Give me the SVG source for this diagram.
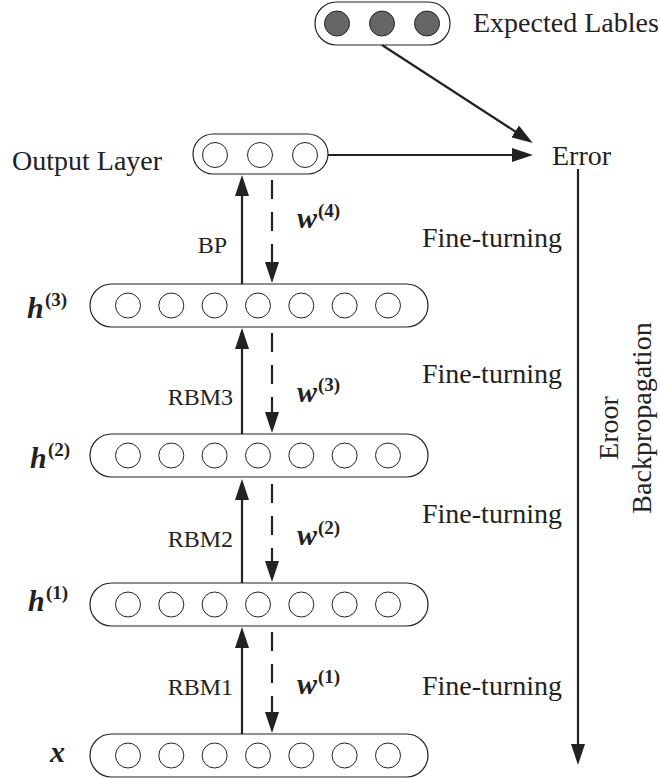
<svg xmlns="http://www.w3.org/2000/svg" width="660" height="778" viewBox="0 0 660 778">
<defs>
<style>
.cap{fill:#fff;stroke:#222;stroke-width:1.2}
.c{fill:#fff;stroke:#222;stroke-width:1}
.cd{fill:#666;stroke:#222;stroke-width:1}
.t{font-family:"Liberation Serif","Times New Roman",serif;font-size:28px;fill:#222}
.s{font-family:"Liberation Serif","Times New Roman",serif;font-size:24px;fill:#222}
.v{font-family:"Liberation Serif","Times New Roman",serif;font-size:30px;font-weight:bold;font-style:italic;fill:#222}
.sup{font-family:"Liberation Serif","Times New Roman",serif;font-size:19px;font-weight:bold;fill:#222}
.ln{stroke:#222;stroke-width:2.2;fill:none;marker-end:url(#ah)}
.dl{stroke:#222;stroke-width:2.2;fill:none;stroke-dasharray:19 13;marker-end:url(#ah)}
</style>
<marker id="ah" markerUnits="userSpaceOnUse" markerWidth="22" markerHeight="14" refX="1" refY="7" orient="auto">
<path d="M0,0 L21,7 L0,14 z" fill="#222" stroke="none"/>
</marker>
</defs>
<rect width="660" height="778" fill="#fff"/>

<g id="expected">
<rect class="cap" x="315" y="2" width="135" height="43" rx="21.5"/>
<circle class="cd" cx="337" cy="23.5" r="12.5"/>
<circle class="cd" cx="382" cy="23.5" r="12.5"/>
<circle class="cd" cx="427" cy="23.5" r="12.5"/>
<text class="t" x="473" y="32">Expected Lables</text>
</g>

<g id="output">
<rect class="cap" x="193" y="134" width="135" height="40" rx="20"/>
<circle class="c" cx="215" cy="155" r="12.5"/>
<circle class="c" cx="260" cy="155" r="12.5"/>
<circle class="c" cx="305" cy="155" r="12.5"/>
<text class="t" x="12" y="170">Output Layer</text>
</g>

<g id="error">
<text class="t" x="552" y="165">Error</text>
</g>

<g id="h3">
<rect class="cap" x="90" y="284" width="338" height="43" rx="21.5"/>
<circle class="c" cx="128" cy="305.5" r="12.5"/>
<circle class="c" cx="171.3" cy="305.5" r="12.5"/>
<circle class="c" cx="214.6" cy="305.5" r="12.5"/>
<circle class="c" cx="258" cy="305.5" r="12.5"/>
<circle class="c" cx="301.3" cy="305.5" r="12.5"/>
<circle class="c" cx="344.6" cy="305.5" r="12.5"/>
<circle class="c" cx="388" cy="305.5" r="12.5"/>
<text class="v" x="27" y="318">h</text><text class="sup" x="45" y="306">(3)</text>
</g>

<g id="h2">
<rect class="cap" x="90" y="434" width="338" height="43" rx="21.5"/>
<circle class="c" cx="128" cy="455.5" r="12.5"/>
<circle class="c" cx="171.3" cy="455.5" r="12.5"/>
<circle class="c" cx="214.6" cy="455.5" r="12.5"/>
<circle class="c" cx="258" cy="455.5" r="12.5"/>
<circle class="c" cx="301.3" cy="455.5" r="12.5"/>
<circle class="c" cx="344.6" cy="455.5" r="12.5"/>
<circle class="c" cx="388" cy="455.5" r="12.5"/>
<text class="v" x="30" y="468">h</text><text class="sup" x="48" y="456">(2)</text>
</g>

<g id="h1">
<rect class="cap" x="90" y="583" width="338" height="43" rx="21.5"/>
<circle class="c" cx="128" cy="604.5" r="12.5"/>
<circle class="c" cx="171.3" cy="604.5" r="12.5"/>
<circle class="c" cx="214.6" cy="604.5" r="12.5"/>
<circle class="c" cx="258" cy="604.5" r="12.5"/>
<circle class="c" cx="301.3" cy="604.5" r="12.5"/>
<circle class="c" cx="344.6" cy="604.5" r="12.5"/>
<circle class="c" cx="388" cy="604.5" r="12.5"/>
<text class="v" x="28" y="611">h</text><text class="sup" x="46" y="599">(1)</text>
</g>

<g id="x">
<rect class="cap" x="90" y="734" width="338" height="43" rx="21.5"/>
<circle class="c" cx="128" cy="755.5" r="12.5"/>
<circle class="c" cx="171.3" cy="755.5" r="12.5"/>
<circle class="c" cx="214.6" cy="755.5" r="12.5"/>
<circle class="c" cx="258" cy="755.5" r="12.5"/>
<circle class="c" cx="301.3" cy="755.5" r="12.5"/>
<circle class="c" cx="344.6" cy="755.5" r="12.5"/>
<circle class="c" cx="388" cy="755.5" r="12.5"/>
<text class="v" x="50" y="762">x</text>
</g>

<g id="connectors">
<line class="ln" x1="382" y1="45" x2="516" y2="132"/>
<line class="ln" x1="328" y1="155" x2="513" y2="155"/>
<line class="ln" x1="578" y1="169" x2="578" y2="745"/>
<line class="ln" x1="242" y1="284" x2="242" y2="195"/>
<line class="dl" x1="272" y1="180" x2="272" y2="263"/>
<line class="ln" x1="242" y1="434" x2="242" y2="348"/>
<line class="dl" x1="272" y1="333" x2="272" y2="413"/>
<line class="ln" x1="242" y1="583" x2="242" y2="499"/>
<line class="dl" x1="272" y1="484" x2="272" y2="562"/>
<line class="ln" x1="242" y1="734" x2="242" y2="647"/>
<line class="dl" x1="272" y1="632" x2="272" y2="713"/>
</g>

<g id="labels">
<text class="s" x="227" y="253" text-anchor="end">BP</text>
<text class="s" x="233" y="405" text-anchor="end">RBM3</text>
<text class="s" x="233" y="547" text-anchor="end">RBM2</text>
<text class="s" x="233" y="695" text-anchor="end">RBM1</text>
<text class="v" x="297" y="228">w</text><text class="sup" x="318" y="217">(4)</text>
<text class="v" x="297" y="402">w</text><text class="sup" x="318" y="391">(3)</text>
<text class="v" x="297" y="545">w</text><text class="sup" x="318" y="534">(2)</text>
<text class="v" x="297" y="694">w</text><text class="sup" x="318" y="683">(1)</text>
<text class="t" x="422" y="247">Fine-turning</text>
<text class="t" x="422" y="383">Fine-turning</text>
<text class="t" x="422" y="523">Fine-turning</text>
<text class="t" x="422" y="695">Fine-turning</text>
<text class="t" transform="translate(618,428) rotate(-90)" text-anchor="middle">Eroor</text>
<text class="t" transform="translate(651,418) rotate(-90)" text-anchor="middle">Backpropagation</text>
</g>
</svg>
